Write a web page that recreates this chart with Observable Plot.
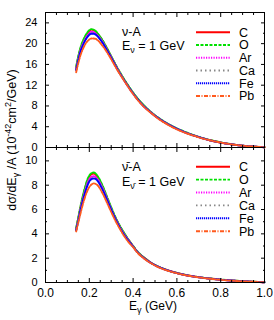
<!DOCTYPE html>
<html>
<head>
<meta charset="utf-8">
<script src="https://cdn.jsdelivr.net/npm/d3@7"></script>
<script src="https://cdn.jsdelivr.net/npm/@observablehq/plot@0.6"></script>
<style>
  body { margin: 0; background: white; }
  #wrap { position: relative; width: 274px; height: 320px; background: white; font-family: "Liberation Sans", Arial, sans-serif; }
  #top, #bot { position: absolute; left: 0; }
  #top { top: 0; }
  #bot { top: 147px; }
  svg { overflow: visible; }
</style>
</head>
<body>
<div id="wrap"><div id="bot"></div><div id="top"></div></div>
<script>
// Photon energy grid (GeV)
const E = [0.14,0.15,0.16,0.17,0.18,0.19,0.20,0.21,0.22,0.23,0.24,0.26,0.28,0.30,0.32,0.34,0.36,0.38,0.40,0.42,0.45,0.48,0.51,0.55,0.60,0.65,0.70,0.75,0.80,0.85,0.90,0.95,1.00];

// neutrino-A, E_nu = 1 GeV
const nuC  = [15.3,17.4,19.0,20.2,21.1,21.9,22.4,22.7,22.6,22.3,21.8,20.6,19.1,17.5,15.9,14.4,13.0,11.7,10.5,9.4,8.0,6.8,5.8,4.7,3.6,2.7,2.0,1.4,0.95,0.6,0.35,0.17,0.05];
const nuO  = [15.6,17.7,19.3,20.5,21.4,22.1,22.6,22.8,22.7,22.4,21.9,20.7,19.2,17.6,16.0,14.5,13.1,11.8,10.6,9.5,8.1,6.9,5.9,4.8,3.7,2.8,2.05,1.45,1.0,0.62,0.36,0.18,0.05];
const nuAr = [15.1,17.2,18.8,19.9,20.8,21.5,22.0,22.3,22.2,21.9,21.5,20.4,18.9,17.4,15.8,14.3,12.9,11.6,10.4,9.3,7.9,6.8,5.8,4.7,3.6,2.7,2.0,1.4,0.95,0.6,0.35,0.17,0.05];
const nuCa = [15.0,17.0,18.6,19.7,20.6,21.3,21.8,22.0,22.0,21.8,21.4,20.3,18.9,17.3,15.8,14.3,12.9,11.6,10.4,9.3,7.9,6.8,5.8,4.7,3.6,2.7,2.0,1.4,0.95,0.6,0.35,0.17,0.05];
const nuFe = [14.9,16.9,18.5,19.6,20.5,21.2,21.7,21.9,21.9,21.7,21.3,20.2,18.8,17.3,15.7,14.2,12.9,11.6,10.4,9.3,7.9,6.8,5.8,4.7,3.6,2.7,2.0,1.4,0.95,0.6,0.35,0.17,0.05];
const nuPb = [14.5,16.3,17.8,18.9,19.8,20.4,20.8,21.0,21.0,20.9,20.6,19.6,18.4,17.0,15.5,14.1,12.8,11.5,10.3,9.2,7.8,6.7,5.7,4.6,3.5,2.65,1.95,1.4,0.95,0.6,0.35,0.17,0.05];

// antineutrino-A, E_nubar = 1 GeV
const anC  = [4.4,5.3,6.2,7.0,7.7,8.3,8.7,8.9,8.95,8.85,8.6,7.9,7.0,6.1,5.3,4.6,4.0,3.5,3.0,2.5,2.05,1.65,1.35,1.05,0.78,0.58,0.44,0.33,0.24,0.17,0.11,0.06,0.02];
const anO  = [4.5,5.4,6.3,7.1,7.8,8.4,8.8,9.0,9.05,8.95,8.7,8.0,7.1,6.2,5.35,4.65,4.05,3.5,3.0,2.55,2.05,1.65,1.35,1.05,0.78,0.58,0.44,0.33,0.24,0.17,0.11,0.06,0.02];
const anAr = [4.35,5.2,6.1,6.85,7.5,8.1,8.5,8.7,8.75,8.65,8.45,7.8,6.95,6.05,5.25,4.55,3.95,3.45,2.95,2.5,2.0,1.62,1.33,1.04,0.77,0.57,0.43,0.32,0.23,0.16,0.1,0.05,0.02];
const anCa = [4.3,5.15,6.0,6.75,7.4,8.0,8.35,8.55,8.6,8.55,8.35,7.7,6.9,6.0,5.2,4.5,3.9,3.4,2.95,2.5,2.0,1.62,1.33,1.04,0.77,0.57,0.43,0.32,0.23,0.16,0.1,0.05,0.02];
const anFe = [4.3,5.1,5.95,6.7,7.35,7.9,8.3,8.5,8.55,8.5,8.3,7.65,6.85,6.0,5.2,4.5,3.9,3.4,2.95,2.5,2.0,1.62,1.33,1.04,0.77,0.57,0.43,0.32,0.23,0.16,0.1,0.05,0.02];
const anPb = [4.2,4.95,5.7,6.4,7.0,7.5,7.85,8.05,8.15,8.1,7.95,7.35,6.6,5.8,5.05,4.4,3.8,3.3,2.9,2.45,1.97,1.6,1.3,1.02,0.76,0.56,0.42,0.31,0.22,0.15,0.1,0.05,0.02];

const nuclei = ["C","O","Ar","Ca","Fe","Pb"];
const colors = ["#ff0000","#00e000","#ff00ff","#888888","#0000ff","#ff5a1e"];
const dashes = [null,"3,1.5","1.2,1.3","1.5,3","1.2,0.8","4,1.5,1,1.5"];

const xMajor = [0,0.2,0.4,0.6,0.8,1.0];
const xMinor = [0.05,0.1,0.15,0.25,0.3,0.35,0.45,0.5,0.55,0.65,0.7,0.75,0.85,0.9,0.95];
const yTopMajor = [0,4,8,12,16,20,24];
const yTopMinor = [2,6,10,14,18,22];
const yBotMajor = [0,2,4,6,8,10];
const yBotMinor = [1,3,5,7,9];

const blank = () => "";

function panel(series, {height, marginTop, marginBottom, yDomain, yMajor, yMinor, xLabels}) {
  const marks = [];
  series.forEach((vals, i) => {
    marks.push(Plot.line(E.map((e, j) => ({e, v: vals[j]})), {
      x: "e", y: "v", stroke: colors[i], strokeWidth: 1.9,
      strokeDasharray: dashes[i], curve: "monotone-x"
    }));
  });
  for (const anchor of ["bottom", "top"]) {
    marks.push(Plot.axisX(xMajor, {anchor, tickSize: -4, tickFormat: blank, label: null}));
    marks.push(Plot.axisX(xMinor, {anchor, tickSize: -2, tickFormat: blank, label: null}));
  }
  for (const anchor of ["left", "right"]) {
    marks.push(Plot.axisY(yMajor, {anchor, tickSize: -4, tickFormat: blank, label: null}));
    marks.push(Plot.axisY(yMinor, {anchor, tickSize: -2, tickFormat: blank, label: null}));
  }
  marks.push(Plot.axisY(yMajor, {anchor: "left", tickSize: 0, tickPadding: 8, label: null, fontSize: 11}));
  if (xLabels) {
    marks.push(Plot.axisX(xMajor, {anchor: "bottom", tickSize: 0, tickPadding: 6, label: null, fontSize: 12, tickFormat: d3.format(".1f")}));
  }
  marks.push(Plot.frame({stroke: "black", strokeWidth: 1}));
  return Plot.plot({
    width: 274, height,
    marginLeft: 45, marginRight: 10, marginTop, marginBottom,
    x: {domain: [0, 1], label: null},
    y: {domain: yDomain, label: null},
    style: {background: "transparent", overflow: "visible", fontFamily: "Liberation Sans, Arial, sans-serif", fontSize: "12px", color: "black"},
    marks
  });
}

document.getElementById("top").append(panel([nuC, nuO, nuAr, nuCa, nuFe, nuPb], {
  height: 147, marginTop: 12, marginBottom: 0, yDomain: [0, 26], yMajor: yTopMajor, yMinor: yTopMinor, xLabels: false
}));
document.getElementById("bot").append(panel([anC, anO, anAr, anCa, anFe, anPb], {
  height: 173, marginTop: 0, marginBottom: 38, yDomain: [0, 11.1], yMajor: yBotMajor, yMinor: yBotMinor, xLabels: true
}));

// Overlay: legends, annotations, axis titles
const ov = d3.select("#wrap").append("svg")
  .attr("width", 274).attr("height", 320)
  .style("position", "absolute").style("left", 0).style("top", 0)
  .style("font-family", "Liberation Sans, Arial, sans-serif");

function legend(y0, step) {
  nuclei.forEach((n, i) => {
    const y = y0 + i * step;
    ov.append("line").attr("x1", 196).attr("x2", 230).attr("y1", y).attr("y2", y)
      .attr("stroke", colors[i]).attr("stroke-width", 1.9)
      .attr("stroke-dasharray", dashes[i]);
    ov.append("text").attr("x", 239).attr("y", y + 4.4).attr("font-size", 12.5).text(n);
  });
}
legend(32.3, 12.75);
legend(166.7, 12.9);

function annot(yTop, bar) {
  const nu = bar ? "ν\u0304" : "ν";
  ov.append("text").attr("x", 122).attr("y", yTop).attr("font-size", 12.5).text(nu + "-A");
  const t = ov.append("text").attr("x", 122).attr("y", yTop + 14.5).attr("font-size", 12.5);
  t.append("tspan").text("E");
  t.append("tspan").attr("font-size", 9).attr("dy", 3).text(nu);
  t.append("tspan").attr("dy", -3).text(" = 1 GeV");
}
annot(35.8, false);
annot(171, true);

// y-axis title
const yt = ov.append("text").attr("transform", "translate(16,140) rotate(-90)")
  .attr("text-anchor", "middle").attr("font-size", 12.5);
yt.append("tspan").text("dσ/dE");
yt.append("tspan").attr("font-size", 9).attr("dy", 3).text("γ");
yt.append("tspan").attr("dy", -3).text(" /A (10");
yt.append("tspan").attr("font-size", 9).attr("dy", -5).text("-42");
yt.append("tspan").attr("dy", 5).text("cm");
yt.append("tspan").attr("font-size", 9).attr("dy", -5).text("2");
yt.append("tspan").attr("dy", 5).text("/GeV)");

// x-axis title
const xt = ov.append("text").attr("x", 153).attr("y", 310).attr("text-anchor", "middle").attr("font-size", 12);
xt.append("tspan").text("E");
xt.append("tspan").attr("font-size", 9).attr("dy", 3).text("γ");
xt.append("tspan").attr("dy", -3).text(" (GeV)");
</script>
</body>
</html>
